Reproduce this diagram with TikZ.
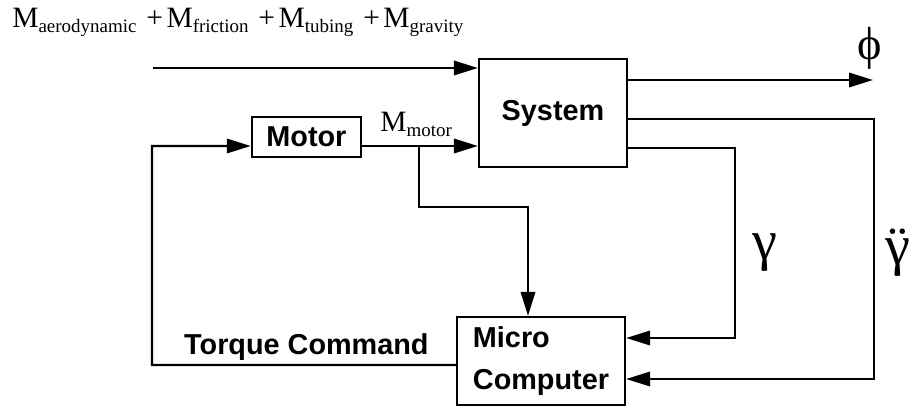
\documentclass[tikz,border=0pt]{standalone}
\usepackage{fontspec}
\setmainfont{Liberation Serif}
\setsansfont{Liberation Sans}
\usetikzlibrary{arrows.meta, positioning}

% moment term with a lowered, smaller subscript
\newcommand{\Mterm}[1]{M\raisebox{-3pt}{\fontsize{13.5}{13.5}\selectfont #1}}
\newcommand{\plusop}{\hspace{7pt}+\hspace{2.5pt}}

\begin{document}
\begin{tikzpicture}[
  block/.style={draw, line width=1.6pt, inner sep=0pt, font=\sffamily\bfseries\fontsize{20.5}{30}\selectfont},
  serif/.style={font=\fontsize{21}{24}\selectfont, inner sep=0pt},
  greek/.style={font=\fontsize{40}{40}\selectfont, inner sep=0pt},
  arrow/.style={-{Triangle[length=0.6cm, width=0.36cm]}, line width=1.6pt}
]
  \useasboundingbox (0,0) rectangle (22.725,10.2);

  \node[block, minimum width=3.7cm, minimum height=2.7cm] (system) at (13.825,7.375) {System};
  \node[block, minimum width=2.725cm, minimum height=1cm] (motor) at (7.66,6.775) {Motor};
  \node[block, minimum width=4.2cm, minimum height=2.2cm, align=left] (micro) at (13.525,1.175) {Micro\\Computer};

  \node[serif, anchor=base west] (moments) at (0.3,9.5) {\Mterm{aerodynamic}\plusop\Mterm{friction}\plusop\Mterm{tubing}\plusop\Mterm{gravity}};
  \node[serif, anchor=base west] (mmotor) at (9.5,6.9) {\Mterm{motor}};
  \node[greek, font=\fontsize{33}{33}\selectfont] (phi) at (21.75,9.0) {ϕ};
  \node[greek] (gamma) at (19.125,3.875) {γ};
  \node[greek] (gammadd) at (22.45,3.875) {\accent"00A8 γ};
  \node[block, draw=none] (torque) at (7.66,1.525) {Torque Command};

  \coordinate (dist) at (3.825,8.5);
  \coordinate (phiend) at (21.825,8.2);
  \coordinate (gcorner) at (18.375,6.5);
  \coordinate (gddcorner) at (21.85,7.225);
  \coordinate (tap) at (10.475,6.55);
  \coordinate (tapcorner) at (13.2,5.025);
  \coordinate (cmdcorner) at (3.8,6.55);

  % inputs to the system
  \draw[arrow] (dist) -- (dist -| system.west);
  \draw[arrow] ([yshift=-0.225cm]motor.east) -- ([yshift=-0.225cm]motor.east -| system.west);
  \draw[arrow] (system.east |- phiend) -- (phiend);

  % feedback to the computer
  \draw[arrow] (system.east |- gcorner) -- (gcorner) |- ([yshift=0.575cm]micro.east);
  \draw[arrow] (system.east |- gddcorner) -- (gddcorner) |- ([yshift=-0.45cm]micro.east);
  \draw[arrow] (tap) -- (tap |- tapcorner) -- (tapcorner) -- (tapcorner |- micro.north);

  % torque command back to the motor
  \draw[arrow] ([yshift=-0.1cm]micro.west) -| (cmdcorner) -- ([yshift=-0.225cm]motor.west);
\end{tikzpicture}
\end{document}
